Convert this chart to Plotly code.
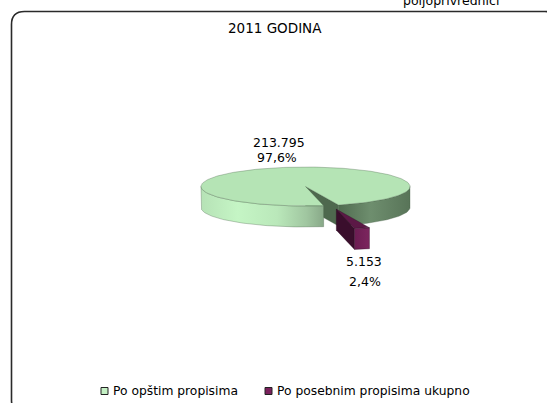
import numpy as np
import plotly.graph_objects as go

# ---- data ----
title_text = "2011 GODINA"
header_text = "poljoprivrednici"
categories = ["Po opštim propisima", "Po posebnim propisima ukupno"]
values = [213795, 5153]

# ---- styling / geometry of the 3-D pie (screen pixels) ----
W, H = 547, 403
CX, CY = 305.5, 186.5          # centre of the top ellipse
RX, RY = 104.5, 19.5           # radii of the top ellipse
DEPTH = 21                     # thickness of the disc
START = 80.0                   # angle where the first slice begins (deg, clockwise)
EXPLODE = [0.0, 1.2]           # radial pull-out per slice

FONT = "DejaVu Sans"

LIGHT_WALL = [[0, "rgb(182,226,182)"], [0.3, "rgb(197,245,197)"], [0.62, "rgb(186,232,186)"],
              [0.86, "rgb(160,198,160)"], [1, "rgb(136,168,136)"]]
DARK_WALL = [[0, "rgb(80,108,80)"], [0.45, "rgb(110,142,110)"], [1, "rgb(88,116,88)"]]
PURPLE_WALL = [[0, "rgb(108,28,82)"], [1, "rgb(124,38,94)"]]

slice_style = [
    # walls: (minimum mid-angle of the wall part, colorscale), checked in order
    dict(top="rgb(181,228,181)", face="rgb(78,104,78)", edge="rgba(70,95,70,0.55)",
         walls=[(75, LIGHT_WALL), (0, DARK_WALL)], legend="rgb(196,240,196)"),
    dict(top="rgb(92,24,70)", face="rgb(58,14,44)", edge="rgba(40,10,30,0.6)",
         walls=[(0, PURPLE_WALL)], legend="rgb(122,32,92)"),
]

total = float(sum(values))
spans = [360.0 * v / total for v in values]
bounds = []
a = START
for s in spans:
    bounds.append((a, a + s))
    a += s


def rim(t_deg, ox, oy, dz=0.0):
    t = np.radians(t_deg)
    return CX + ox + RX * np.cos(t), CY + oy + RY * np.sin(t) + dz


def arc(t0, t1, ox, oy, dz=0.0):
    n = max(4, int(abs(t1 - t0) / 1.5) + 2)
    ts = np.linspace(t0, t1, n)
    xs, ys = rim(ts, ox, oy, dz)
    return list(xs), list(ys)


def front_parts(a0, a1):
    """Parts of [a0, a1] lying on the visible front half (0..180 deg mod 360)."""
    parts = []
    for k in range(-1, 3):
        lo, hi = 360 * k, 360 * k + 180
        s, e = max(a0, lo), min(a1, hi)
        if e > s:
            parts.append((s, e))
    return parts


def poly(xs, ys, **kw):
    return go.Scatter(x=xs + [xs[0]], y=ys + [ys[0]], mode="lines", fill="toself",
                      hoverinfo="skip", showlegend=False, **kw)


fig = go.Figure()

for i, ((a0, a1), st) in enumerate(zip(bounds, slice_style)):
    mid = np.radians((a0 + a1) / 2)
    ox = EXPLODE[i] * RX * np.cos(mid)
    oy = EXPLODE[i] * RY * np.sin(mid)
    cx, cy = CX + ox, CY + oy
    line = dict(color=st["edge"], width=0.6)

    # radial cut faces that turn towards the viewer
    for ang, visible in ((a0, np.cos(np.radians(a0)) < 0), (a1, np.cos(np.radians(a1)) > 0)):
        if visible and spans[i] < 360:
            rx_, ry_ = rim(ang, ox, oy)
            fig.add_trace(poly([cx, rx_, rx_, cx], [cy, ry_, ry_ + DEPTH, cy + DEPTH],
                               fillcolor=st["face"], line=line))

    # outer side wall
    for s, e in front_parts(a0, a1):
        xt, yt = arc(s, e, ox, oy)
        xb, yb = arc(e, s, ox, oy, DEPTH)
        mid_part = ((s + e) / 2) % 360
        scale = next(cs for lo, cs in st["walls"] if mid_part >= lo)
        fig.add_trace(go.Scatter(x=xt + xb + [xt[0]], y=yt + yb + [yt[0]], mode="lines",
                                 fill="toself", line=line, hoverinfo="skip", showlegend=False,
                                 fillgradient=dict(type="horizontal", colorscale=scale)))

    # top surface
    xt, yt = arc(a0, a1, ox, oy)
    fig.add_trace(poly([cx] + xt, [cy] + yt, fillcolor=st["top"], line=line))

# ---- data labels ----
def fmt_value(v):
    return f"{v:,}".replace(",", ".")


def fmt_pct(v):
    return f"{100 * v / total:.1f}".replace(".", ",") + "%"


label_pos = [((279, 142), (277, 157)), ((364, 261), (365, 281))]
for v, ((xv, yv), (xp, yp)) in zip(values, label_pos):
    fig.add_annotation(x=xv, y=yv, text=fmt_value(v), showarrow=False,
                       font=dict(family=FONT, size=12.5, color="#000"))
    fig.add_annotation(x=xp, y=yp, text=fmt_pct(v), showarrow=False,
                       font=dict(family=FONT, size=12.5, color="#000"))

# ---- title ----
fig.add_annotation(x=274.5, y=28, text=title_text, showarrow=False,
                   font=dict(family=FONT, size=13.5, color="#000"))

# ---- legend ----
leg_x = [104.5, 268.5]
leg_y = 391
fig.add_trace(go.Scatter(x=leg_x, y=[leg_y] * 2, mode="markers", hoverinfo="skip", showlegend=False,
                         marker=dict(symbol="square", size=7,
                                     color=[st["legend"] for st in slice_style],
                                     line=dict(color="#222", width=1))))
for xm, name in zip(leg_x, categories):
    fig.add_annotation(x=xm + 6, y=leg_y, text=name, showarrow=False, xanchor="left",
                       font=dict(family=FONT, size=12.3, color="#000"))

# ---- heading above the frame (runs off the top of the page) ----
fig.add_annotation(x=401 / W, y=1, xref="paper", yref="paper", text=header_text,
                   showarrow=False, xanchor="left", yanchor="bottom", yshift=-10,
                   font=dict(family=FONT, size=12.5, color="#000"))

# ---- rounded frame ----
L, T, R, B, r = 11.5, 11.5, 558, 413, 13
frame = (f"M {L},{B - r} L {L},{T + r} Q {L},{T} {L + r},{T} L {R - r},{T} Q {R},{T} {R},{T + r} "
         f"L {R},{B - r} Q {R},{B} {R - r},{B} L {L + r},{B} Q {L},{B} {L},{B - r} Z")
fig.add_shape(type="path", path=frame, xref="x", yref="y",
              line=dict(color="#2a2a2a", width=1.6))

fig.update_layout(
    width=W, height=H, margin=dict(l=0, r=0, t=0, b=0),
    paper_bgcolor="white", plot_bgcolor="white", showlegend=False,
    xaxis=dict(range=[0, W], visible=False, fixedrange=True),
    yaxis=dict(range=[H, 0], visible=False, fixedrange=True),
)

fig.write_html("out.html")
